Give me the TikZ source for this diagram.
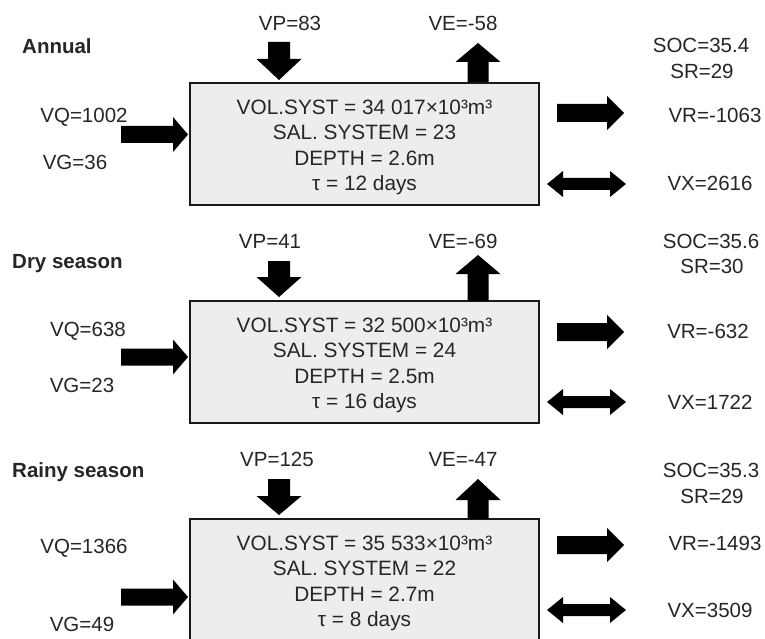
\documentclass[tikz,border=0pt]{standalone}
\usepackage{fontspec}
\setmainfont{Liberation Sans}

% Filled block arrows.
% Horizontal: tail x, head-base x, tip x, mid y, half shaft, half head
\newcommand\blockH[6]{%
  \fill (#1,#4-#5) -- (#2,#4-#5) -- (#2,#4-#6) -- (#3,#4) -- (#2,#4+#6) -- (#2,#4+#5) -- (#1,#4+#5) -- cycle;}
% Vertical: mid x, tail y, head-base y, tip y, half shaft, half head
\newcommand\blockV[6]{%
  \fill (#1-#5,#2) -- (#1-#5,#3) -- (#1-#6,#3) -- (#1,#4) -- (#1+#6,#3) -- (#1+#5,#3) -- (#1+#5,#2) -- cycle;}
% Two-headed: left tip x, left base x, right base x, right tip x, mid y, half shaft, half head
\newcommand\blockD[7]{%
  \fill (#1,#5) -- (#2,#5-#7) -- (#2,#5-#6) -- (#3,#5-#6) -- (#3,#5-#7) -- (#4,#5) -- (#3,#5+#7) -- (#3,#5+#6) -- (#2,#5+#6) -- (#2,#5+#7) -- cycle;}

\tikzset{
  lbl/.style={font=\fontsize{20.5}{24}\selectfont, inner sep=0pt, text=black!85},
  ttl/.style={lbl, font=\fontsize{20.5}{24}\selectfont\bfseries, anchor=west},
  sysbox/.style={draw=black!90, line width=2.6pt, fill=black!7},
  systxt/.style={font=\fontsize{20.8}{25.3}\selectfont, align=center, inner sep=0pt, text=black!85},
}

\begin{document}
\begin{tikzpicture}[x=1pt, y=-1pt]
  \useasboundingbox (0,0) rectangle (765,639);
  \fill[white] (0,0) rectangle (765,639);
  \clip (0,0) rectangle (765,639);

  % ---------- Annual ----------
  \node[ttl] (t1) at (22,46) {Annual};
  \node[lbl] (vp1) at (290,23) {VP=83};
  \node[lbl] (ve1) at (463,23) {VE=-58};
  \node[lbl] (soc1) at (701,45) {SOC=35.4};
  \node[lbl] (sr1) at (702,71) {SR=29};
  \node[lbl] (vq1) at (84,117) {VQ=1002};
  \node[lbl] (vg1) at (75,162) {VG=36};
  \node[lbl] (vr1) at (715,115) {VR=-1063};
  \node[lbl] (vx1) at (710,183) {VX=2616};
  \draw[sysbox] (190,83) rectangle (539,205);
  \node[systxt] (s1) at (364.5,147.5) {VOL.SYST = 34 017×10³m³\\SAL. SYSTEM = 23\\DEPTH = 2.6m\\τ = 12 days};
  \blockV{279}{42}{59}{80}{11}{22.5}
  \blockV{478}{82}{62}{43}{10.5}{22.5}
  \blockH{121}{173}{188}{134.5}{8.5}{17.5}
  \blockH{557}{607}{624}{113}{9}{17}
  \blockD{547}{563}{610}{626}{184}{6}{13}

  % ---------- Dry season ----------
  \node[ttl] (t2) at (12,264) {Dry season};
  \node[lbl] (vp2) at (270,241) {VP=41};
  \node[lbl] (ve2) at (463,241) {VE=-69};
  \node[lbl] (soc2) at (711,241) {SOC=35.6};
  \node[lbl] (sr2) at (712,266) {SR=30};
  \node[lbl] (vq2) at (88,331) {VQ=638};
  \node[lbl] (vg2) at (82,385) {VG=23};
  \node[lbl] (vr2) at (708,331) {VR=-632};
  \node[lbl] (vx2) at (710,402) {VX=1722};
  \draw[sysbox] (190,301) rectangle (539,423);
  \node[systxt] (s2) at (364.5,365.5) {VOL.SYST = 32 500×10³m³\\SAL. SYSTEM = 24\\DEPTH = 2.5m\\τ = 16 days};
  \blockV{279}{261}{277}{297}{11}{22.5}
  \blockV{478}{301}{274}{255}{10.5}{22.5}
  \blockH{121}{173}{188}{357}{8.5}{17.5}
  \blockH{557}{607}{624}{332}{9}{17}
  \blockD{547}{563}{610}{626}{402}{6}{13}

  % ---------- Rainy season ----------
  \node[ttl] (t3) at (12,472) {Rainy season};
  \node[lbl] (vp3) at (277,459) {VP=125};
  \node[lbl] (ve3) at (463,459) {VE=-47};
  \node[lbl] (soc3) at (711,470) {SOC=35.3};
  \node[lbl] (sr3) at (712,496) {SR=29};
  \node[lbl] (vq3) at (84,548) {VQ=1366};
  \node[lbl] (vg3) at (82,624) {VG=49};
  \node[lbl] (vr3) at (715,543) {VR=-1493};
  \node[lbl] (vx3) at (710,610) {VX=3509};
  \draw[sysbox] (190,519) rectangle (539,641);
  \node[systxt] (s3) at (364.5,583.5) {VOL.SYST = 35 533×10³m³\\SAL. SYSTEM = 22\\DEPTH = 2.7m\\τ = 8 days};
  \blockV{279}{479}{496}{515}{11}{22.5}
  \blockV{478}{519}{500}{479}{10.5}{22.5}
  \blockH{121}{173}{188}{597}{8.5}{17.5}
  \blockH{557}{607}{624}{545}{9}{17}
  \blockD{547}{563}{610}{626}{610}{6}{13}
\end{tikzpicture}
\end{document}
